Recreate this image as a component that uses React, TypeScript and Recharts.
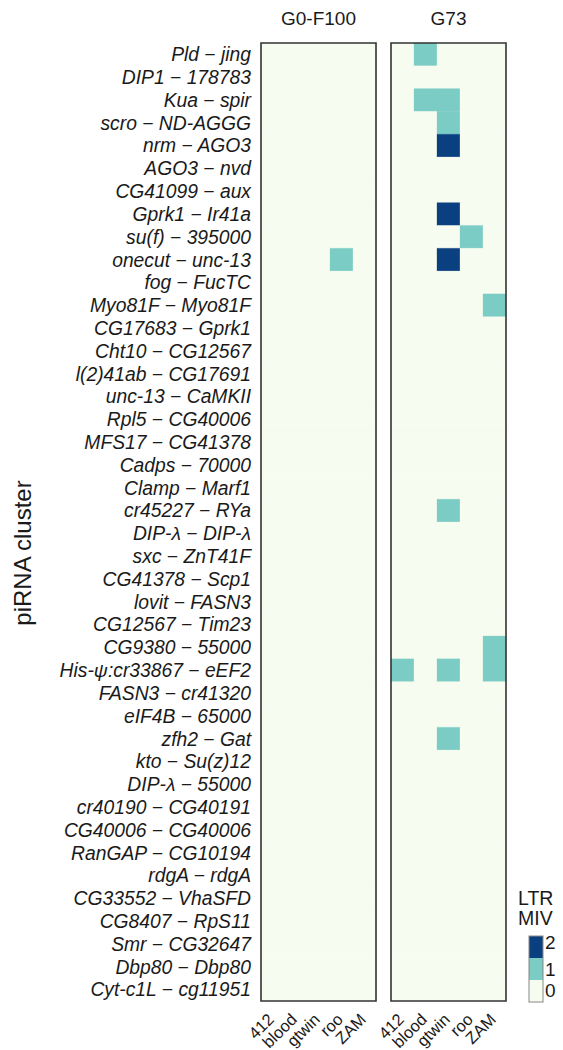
import React from "react";
import { BarChart, Bar, Cell, XAxis, YAxis, ReferenceArea, Label } from "recharts";

const clusters = [
  "Pld \u2212 jing",
  "DIP1 \u2212 178783",
  "Kua \u2212 spir",
  "scro \u2212 ND-AGGG",
  "nrm \u2212 AGO3",
  "AGO3 \u2212 nvd",
  "CG41099 \u2212 aux",
  "Gprk1 \u2212 Ir41a",
  "su(f) \u2212 395000",
  "onecut \u2212 unc-13",
  "fog \u2212 FucTC",
  "Myo81F \u2212 Myo81F",
  "CG17683 \u2212 Gprk1",
  "Cht10 \u2212 CG12567",
  "l(2)41ab \u2212 CG17691",
  "unc-13 \u2212 CaMKII",
  "Rpl5 \u2212 CG40006",
  "MFS17 \u2212 CG41378",
  "Cadps \u2212 70000",
  "Clamp \u2212 Marf1",
  "cr45227 \u2212 RYa",
  "DIP-\u03bb \u2212 DIP-\u03bb",
  "sxc \u2212 ZnT41F",
  "CG41378 \u2212 Scp1",
  "lovit \u2212 FASN3",
  "CG12567 \u2212 Tim23",
  "CG9380 \u2212 55000",
  "His-\u03c8:cr33867 \u2212 eEF2",
  "FASN3 \u2212 cr41320",
  "eIF4B \u2212 65000",
  "zfh2 \u2212 Gat",
  "kto \u2212 Su(z)12",
  "DIP-\u03bb \u2212 55000",
  "cr40190 \u2212 CG40191",
  "CG40006 \u2212 CG40006",
  "RanGAP \u2212 CG10194",
  "rdgA \u2212 rdgA",
  "CG33552 \u2212 VhaSFD",
  "CG8407 \u2212 RpS11",
  "Smr \u2212 CG32647",
  "Dbp80 \u2212 Dbp80",
  "Cyt-c1L \u2212 cg11951",
];

const elements = ["412", "blood", "gtwin", "roo", "ZAM"];
const elementTicks = [0.5, 1.5, 2.5, 3.5, 4.5];

// non-zero LTR MIV counts per sample: [cluster, element, value]
const g0Hits: [string, string, number][] = [["onecut \u2212 unc-13", "roo", 1]];
const g73Hits: [string, string, number][] = [
  ["Pld \u2212 jing", "blood", 1],
  ["Kua \u2212 spir", "blood", 1],
  ["Kua \u2212 spir", "gtwin", 1],
  ["scro \u2212 ND-AGGG", "gtwin", 1],
  ["nrm \u2212 AGO3", "gtwin", 2],
  ["Gprk1 \u2212 Ir41a", "gtwin", 2],
  ["su(f) \u2212 395000", "roo", 1],
  ["onecut \u2212 unc-13", "gtwin", 2],
  ["Myo81F \u2212 Myo81F", "ZAM", 1],
  ["cr45227 \u2212 RYa", "gtwin", 1],
  ["CG9380 \u2212 55000", "ZAM", 1],
  ["His-\u03c8:cr33867 \u2212 eEF2", "412", 1],
  ["His-\u03c8:cr33867 \u2212 eEF2", "gtwin", 1],
  ["His-\u03c8:cr33867 \u2212 eEF2", "ZAM", 1],
  ["zfh2 \u2212 Gat", "gtwin", 1],
];

const legendLevels = [2, 1, 0];
const palette = ["#F7FCF0", "#7BCCC4", "#0A4080"];
const textColor = "#1a1a1a";

const buildRows = (hits: [string, string, number][]) =>
  clusters.map((name) => {
    const row: any = { name };
    elements.forEach((el) => {
      row[el] = 1;
      const hit = hits.find((h) => h[0] === name && h[1] === el);
      row[el + "_v"] = hit ? hit[2] : 0;
    });
    return row;
  });

const ElementTick = ({ x, y, payload }: any) => (
  <g transform={`translate(${x - 6},${y})`}>
    <text
      transform="rotate(-45)"
      textAnchor="end"
      dy="0.72em"
      fontSize={16.5}
      fill={textColor}
    >
      {elements[Math.floor(payload.value)]}
    </text>
  </g>
);

const Panel = ({
  title,
  hits,
  showLabels,
  width,
  margin,
}: {
  title: string;
  hits: [string, string, number][];
  showLabels: boolean;
  width: number;
  margin: any;
}) => {
  const rows = buildRows(hits);
  return (
    <BarChart
      width={width}
      height={1050}
      data={rows}
      layout="vertical"
      barCategoryGap={0}
      barGap={0}
      margin={margin}
    >
      <XAxis
        type="number"
        domain={[0, 5]}
        ticks={elementTicks}
        interval={0}
        height={40}
        axisLine={false}
        tickLine={false}
        tickMargin={5}
        tick={<ElementTick />}
      />
      <YAxis
        type="category"
        dataKey="name"
        hide={!showLabels}
        width={261}
        interval={0}
        axisLine={false}
        tickLine={false}
        tickMargin={4}
        tick={{ fontSize: 19.3, fontStyle: "italic", fill: textColor }}
      >
        {showLabels && (
          <Label
            content={() => (
              <text
                x={31}
                y={553}
                transform="rotate(-90 31 553)"
                textAnchor="middle"
                fontSize={24}
                fill={textColor}
              >
                piRNA cluster
              </text>
            )}
          />
        )}
      </YAxis>
      {elements.map((el) => (
        <Bar key={el} dataKey={el} stackId="cells" isAnimationActive={false}>
          {rows.map((r, i) => (
            <Cell
              key={i}
              fill={palette[r[el + "_v"]]}
              stroke={palette[r[el + "_v"]]}
              strokeWidth={0.3}
            />
          ))}
        </Bar>
      ))}
      <ReferenceArea
        x1={0}
        x2={5}
        fill="none"
        stroke="#333333"
        strokeOpacity={1}
        strokeWidth={1.6}
        ifOverflow="visible"
        zIndex={1500}
      >
        <Label
          value={title}
          position="top"
          offset={18}
          fontSize={19}
          fill={textColor}
        />
      </ReferenceArea>
    </BarChart>
  );
};

const ColourLegend = () => (
  <svg width={60} height={140} style={{ position: "absolute", left: 505, top: 880 }}>
    <text x={13} y={25} fontSize={19.5} fill={textColor}>LTR</text>
    <text x={13} y={45} fontSize={19.5} fill={textColor}>MIV</text>
    {legendLevels.map((lvl, i) => (
      <rect key={lvl} x={24} y={56 + i * 22} width={14} height={22} fill={palette[lvl]} />
    ))}
    <rect x={24} y={56} width={14} height={66} fill="none" stroke="#888888" strokeWidth={1} />
    {legendLevels.map((lvl, i) => (
      <text key={lvl} x={40} y={[68.5, 95.5, 117][i]} fontSize={19} fill={textColor}>
        {lvl}
      </text>
    ))}
  </svg>
);

export default function App() {
  return (
    <div
      style={{
        position: "absolute",
        left: 0,
        top: 0,
        width: 563,
        height: 1050,
        background: "#ffffff",
        fontFamily: "'Liberation Sans', Arial, sans-serif",
      }}
    >
      <div style={{ position: "absolute", left: 0, top: 0 }}>
        <Panel
          title="G0-F100"
          hits={g0Hits}
          showLabels
          width={386}
          margin={{ top: 43, bottom: 9, left: 0, right: 10 }}
        />
      </div>
      <div style={{ position: "absolute", left: 350, top: 0 }}>
        <Panel
          title="G73"
          hits={g73Hits}
          showLabels={false}
          width={173}
          margin={{ top: 43, bottom: 9, left: 41, right: 17 }}
        />
      </div>
      <ColourLegend />
    </div>
  );
}
